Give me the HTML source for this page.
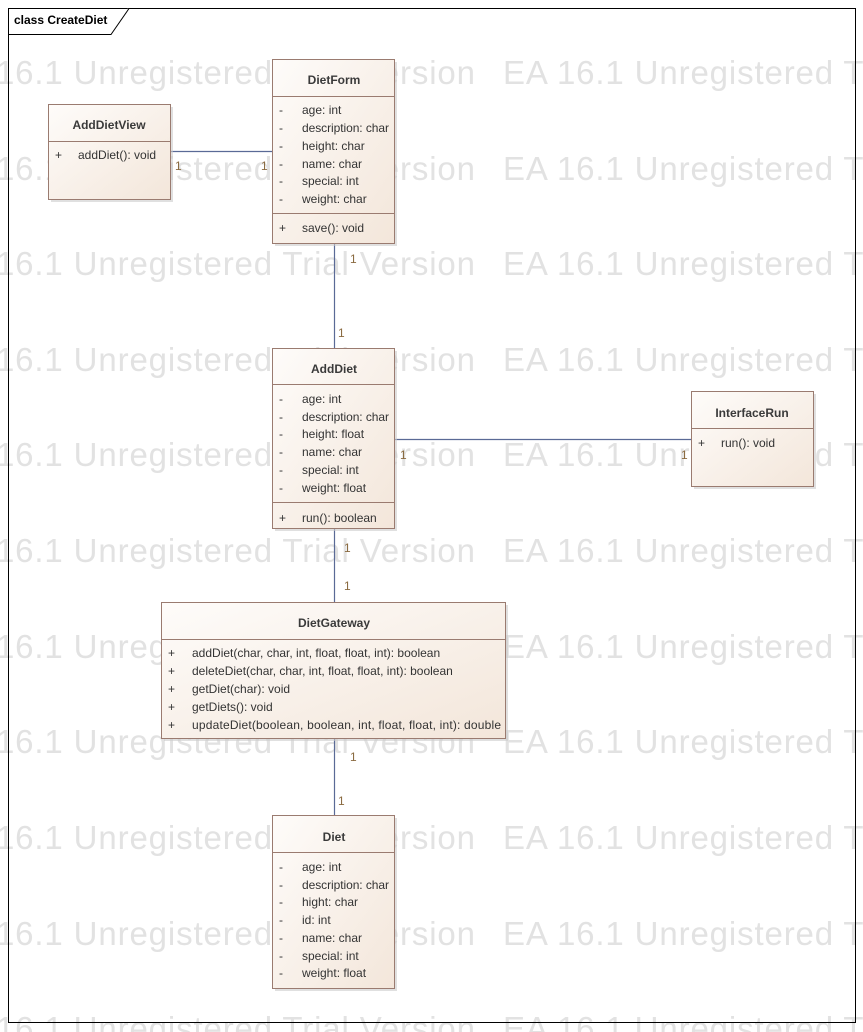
<!DOCTYPE html>
<html><head><meta charset="utf-8"><style>
html,body{margin:0;padding:0;background:#fff;}
svg{display:block;font-family:"Liberation Sans",sans-serif;}
.wm{font-size:33px;fill:#e2e2e2;}
.t{font-size:12px;font-weight:bold;fill:#3a3a3a;text-anchor:middle;}
.a{font-size:12px;fill:#333;}
.m{font-size:12px;fill:#8a6a40;}
</style></head><body>
<svg width="863" height="1032" viewBox="0 0 863 1032">
<defs>
<linearGradient id="g" x1="0" y1="0" x2="1" y2="1">
<stop offset="0" stop-color="#fefcfa"/><stop offset="1" stop-color="#f3e6da"/>
</linearGradient>
</defs>
<rect x="0" y="0" width="863" height="1032" fill="#fff"/>
<g class="wm">
<text x="-58" y="84" textLength="533">EA 16.1 Unregistered Trial Version</text><text x="503" y="84" textLength="533">EA 16.1 Unregistered Trial Version</text>
<text x="-58" y="180" textLength="533">EA 16.1 Unregistered Trial Version</text><text x="503" y="180" textLength="533">EA 16.1 Unregistered Trial Version</text>
<text x="-58" y="275" textLength="533">EA 16.1 Unregistered Trial Version</text><text x="503" y="275" textLength="533">EA 16.1 Unregistered Trial Version</text>
<text x="-58" y="371" textLength="533">EA 16.1 Unregistered Trial Version</text><text x="503" y="371" textLength="533">EA 16.1 Unregistered Trial Version</text>
<text x="-58" y="466" textLength="533">EA 16.1 Unregistered Trial Version</text><text x="503" y="466" textLength="533">EA 16.1 Unregistered Trial Version</text>
<text x="-58" y="562" textLength="533">EA 16.1 Unregistered Trial Version</text><text x="503" y="562" textLength="533">EA 16.1 Unregistered Trial Version</text>
<text x="-58" y="658" textLength="533">EA 16.1 Unregistered Trial Version</text><text x="503" y="658" textLength="533">EA 16.1 Unregistered Trial Version</text>
<text x="-58" y="753" textLength="533">EA 16.1 Unregistered Trial Version</text><text x="503" y="753" textLength="533">EA 16.1 Unregistered Trial Version</text>
<text x="-58" y="849" textLength="533">EA 16.1 Unregistered Trial Version</text><text x="503" y="849" textLength="533">EA 16.1 Unregistered Trial Version</text>
<text x="-58" y="945" textLength="533">EA 16.1 Unregistered Trial Version</text><text x="503" y="945" textLength="533">EA 16.1 Unregistered Trial Version</text>
<text x="-58" y="1040" textLength="533">EA 16.1 Unregistered Trial Version</text><text x="503" y="1040" textLength="533">EA 16.1 Unregistered Trial Version</text>
</g>
<rect x="8.5" y="8.5" width="847" height="1014" fill="none" stroke="#000" stroke-width="1"/>
<path d="M8.5 34.5 H111 L129 8.5" fill="#fff" stroke="#000"/>
<text x="14" y="24" style="font-size:12px;font-weight:bold;fill:#000">class CreateDiet</text>
<g stroke="#5a6a96" stroke-width="1.2" fill="none">
<line x1="170" y1="151.5" x2="272" y2="151.5"/>
<line x1="334.5" y1="243" x2="334.5" y2="348"/>
<line x1="394" y1="439.5" x2="691" y2="439.5"/>
<line x1="334.5" y1="529" x2="334.5" y2="602"/>
<line x1="334.5" y1="738" x2="334.5" y2="815"/>
</g>
<g class="m">
<text x="175" y="170">1</text><text x="261" y="170">1</text>
<text x="350" y="263">1</text><text x="338" y="337">1</text>
<text x="400" y="459">1</text><text x="681" y="459">1</text>
<text x="344" y="552">1</text><text x="344" y="590">1</text>
<text x="350" y="761">1</text><text x="338" y="805">1</text>
</g>
<g stroke="#9a7b70" stroke-width="1" fill="url(#g)">
<rect x="51" y="107" width="122" height="95" fill="#ccc" stroke="none" opacity="0.6"/>
<rect x="48.5" y="104.5" width="122" height="95"/>
<rect x="275" y="62" width="122" height="184" fill="#ccc" stroke="none" opacity="0.6"/>
<rect x="272.5" y="59.5" width="122" height="184"/>
<rect x="275" y="351" width="122" height="180" fill="#ccc" stroke="none" opacity="0.6"/>
<rect x="272.5" y="348.5" width="122" height="180"/>
<rect x="694" y="394" width="122" height="95" fill="#ccc" stroke="none" opacity="0.6"/>
<rect x="691.5" y="391.5" width="122" height="95"/>
<rect x="164" y="605" width="344" height="136" fill="#ccc" stroke="none" opacity="0.6"/>
<rect x="161.5" y="602.5" width="344" height="136"/>
<rect x="275" y="818" width="122" height="173" fill="#ccc" stroke="none" opacity="0.6"/>
<rect x="272.5" y="815.5" width="122" height="173"/>
</g>
<g stroke="#9a7b70" stroke-width="1">
<line x1="48.5" y1="141.5" x2="170.5" y2="141.5"/>
<line x1="272.5" y1="96.5" x2="394.5" y2="96.5"/>
<line x1="272.5" y1="213.5" x2="394.5" y2="213.5"/>
<line x1="272.5" y1="384.5" x2="394.5" y2="384.5"/>
<line x1="272.5" y1="502.5" x2="394.5" y2="502.5"/>
<line x1="691.5" y1="428.5" x2="813.5" y2="428.5"/>
<line x1="161.5" y1="639.5" x2="505.5" y2="639.5"/>
<line x1="272.5" y1="852.5" x2="394.5" y2="852.5"/>
</g>
<text class="t" x="109" y="129">AddDietView</text>
<text class="a" x="55" y="159">+</text><text class="a" x="78" y="159">addDiet(): void</text>
<text class="t" x="334" y="84">DietForm</text>
<g class="a">
<text x="279" y="114">-</text><text x="302" y="114">age: int</text>
<text x="279" y="132">-</text><text x="302" y="132" textLength="87">description: char</text>
<text x="279" y="150">-</text><text x="302" y="150">height: char</text>
<text x="279" y="168">-</text><text x="302" y="168">name: char</text>
<text x="279" y="185">-</text><text x="302" y="185">special: int</text>
<text x="279" y="203">-</text><text x="302" y="203">weight: char</text>
<text x="279" y="232">+</text><text x="302" y="232">save(): void</text>
</g>
<text class="t" x="334" y="373">AddDiet</text>
<g class="a">
<text x="279" y="403">-</text><text x="302" y="403">age: int</text>
<text x="279" y="421">-</text><text x="302" y="421" textLength="87">description: char</text>
<text x="279" y="438">-</text><text x="302" y="438">height: float</text>
<text x="279" y="456">-</text><text x="302" y="456">name: char</text>
<text x="279" y="474">-</text><text x="302" y="474">special: int</text>
<text x="279" y="492">-</text><text x="302" y="492">weight: float</text>
<text x="279" y="522">+</text><text x="302" y="522">run(): boolean</text>
</g>
<text class="t" x="752" y="417">InterfaceRun</text>
<text class="a" x="698" y="447">+</text><text class="a" x="721" y="447">run(): void</text>
<text class="t" x="334" y="627">DietGateway</text>
<g class="a">
<text x="168" y="657">+</text><text x="192" y="657">addDiet(char, char, int, float, float, int): boolean</text>
<text x="168" y="675">+</text><text x="192" y="675">deleteDiet(char, char, int, float, float, int): boolean</text>
<text x="168" y="693">+</text><text x="192" y="693">getDiet(char): void</text>
<text x="168" y="711">+</text><text x="192" y="711">getDiets(): void</text>
<text x="168" y="729">+</text><text x="192" y="729" textLength="309">updateDiet(boolean, boolean, int, float, float, int): double</text>
</g>
<text class="t" x="334" y="841">Diet</text>
<g class="a">
<text x="279" y="871">-</text><text x="302" y="871">age: int</text>
<text x="279" y="889">-</text><text x="302" y="889" textLength="87">description: char</text>
<text x="279" y="906">-</text><text x="302" y="906">hight: char</text>
<text x="279" y="924">-</text><text x="302" y="924">id: int</text>
<text x="279" y="942">-</text><text x="302" y="942">name: char</text>
<text x="279" y="960">-</text><text x="302" y="960">special: int</text>
<text x="279" y="977">-</text><text x="302" y="977">weight: float</text>
</g>
</svg>
</body></html>
